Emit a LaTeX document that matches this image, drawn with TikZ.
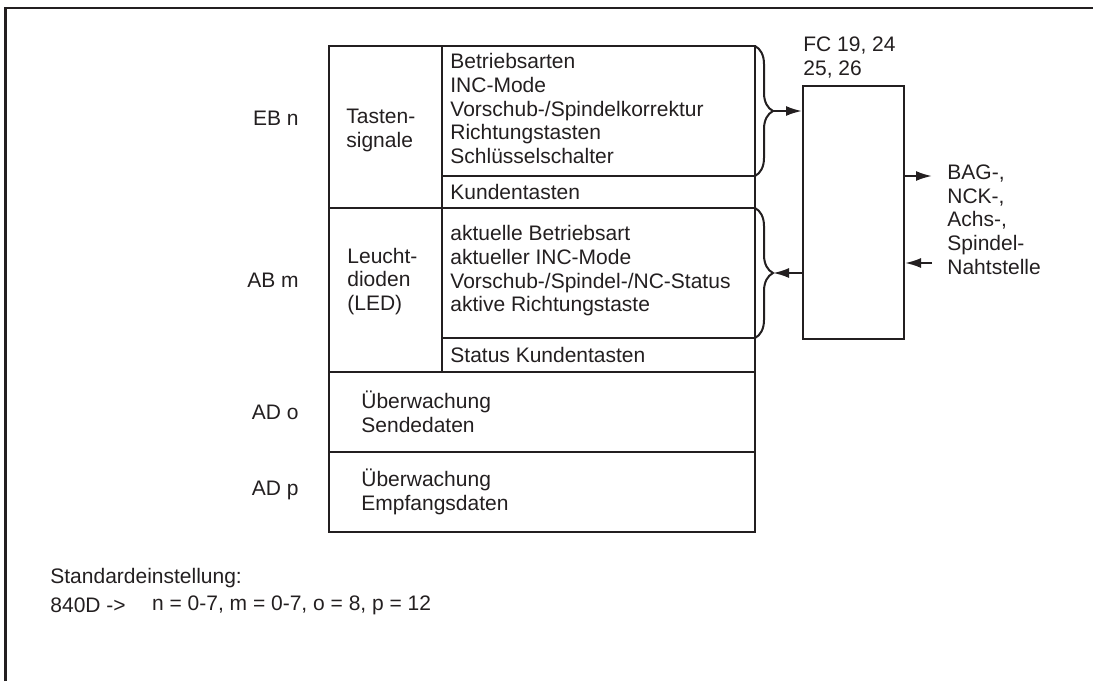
\documentclass[tikz,border=0pt]{standalone}
\usepackage{fontspec}
\setmainfont{Liberation Sans}
\usepackage{tikz}
\usetikzlibrary{calc}
\usetikzlibrary{arrows.meta}
\usetikzlibrary{decorations.pathreplacing}
\definecolor{ink}{RGB}{35,31,32}

\begin{document}
\begin{tikzpicture}[x = 0.5pt, y = -0.5pt, font = \fontsize{10.5}{11.85}\selectfont, color = ink]

\tikzstyle{frame_l}=[line width = 1.3, color = ink]
\tikzstyle{table_l}=[line width = 1, color = ink]
\tikzstyle{label_r}=[anchor = east, inner sep = 0pt]
\tikzstyle{text_l}=[anchor = west, inner sep = 0pt, align = left]
\tikzstyle{fc_box}=[draw, rectangle, line width = 1, minimum width = 50.5pt, minimum height = 126.5pt, inner sep = 0pt, anchor = north west]
\tikzstyle{brace_r}=[line width = 1, decorate, decoration = {brace, amplitude = 9pt}]
\tikzstyle{arrow_r}=[-{Latex[length = 8pt, width = 5pt]}, line width = 1]

\useasboundingbox (0, 0) rectangle (1093, 681);

%outer frame
\draw[frame_l] (5.5, 681) -- (5.5, 8) -- (1093, 8);

\coordinate (tl) at (329, 46);
\coordinate (br) at (755, 532);
\coordinate (col) at (442, 46);
\coordinate (h1) at (329, 208);
\coordinate (h2) at (329, 372);
\coordinate (h3) at (329, 452);
\coordinate (k1) at (442, 176);
\coordinate (k2) at (442, 338);
\coordinate (FC) at (802, 85);

%table
\draw[table_l] (tl) rectangle (br);
\draw[table_l] (col) -- (col |- h2);
\draw[table_l] (h1) -- (h1 -| br);
\draw[table_l] (h2) -- (h2 -| br);
\draw[table_l] (h3) -- (h3 -| br);
\draw[table_l] (k1) -- (k1 -| br);
\draw[table_l] (k2) -- (k2 -| br);

\path
(299, 118) node[label_r](ebn) {EB n}
(299, 280) node[label_r](abm) {AB m}
(299, 412.5) node[label_r](ado) {AD o}
(299, 490) node[label_r](adp) {AD p}
(346, 130.5) node[text_l](tasten) {Tasten-\\signale}
(347, 281.5) node[text_l](leucht) {Leucht-\\dioden\\(LED)}
(450, 108.7) node[text_l](eingang) {Betriebsarten\\INC-Mode\\Vorschub-/Spindelkorrektur\\Richtungstasten\\Schlüsselschalter}
(450, 192) node[text_l](kunden) {Kundentasten}
(450, 271) node[text_l](ausgang) {aktuelle Betriebsart\\aktueller INC-Mode\\Vorschub-/Spindel-/NC-Status\\aktive Richtungstaste}
(450, 355) node[text_l](status) {Status Kundentasten}
(361, 412) node[text_l](senden) {Überwachung\\Sendedaten}
(361, 492) node[text_l](empfang) {Überwachung\\Empfangsdaten};

\path
(FC) node[fc_box](fc) {}
(803, 57.5) node[text_l](fcname) {FC 19, 24\\25, 26}
(947, 219.5) node[text_l](nst) {BAG-,\\NCK-,\\Achs-,\\Spindel-\\Nahtstelle}
(50, 578) node[text_l](std) {Standardeinstellung:}
(50, 605) node[text_l](cpu) {840D ->}
(151.7, 605) node[text_l](werte) {n = 0-7, m = 0-7, o = 8, p = 12};

%braces
\draw[brace_r] (tl -| br) -- (k1 -| br);
\draw[brace_r] (h1 -| br) -- (k2 -| br);
\coordinate (tip1) at ($(tl -| br)!0.5!(k1 -| br) + (18, 0)$);
\coordinate (tip2) at ($(h1 -| br)!0.5!(k2 -| br) + (18, 0)$);
\coordinate (out) at (932, 176);
\coordinate (in) at (932, 263);

%arrows
\draw[arrow_r] (tip1) -- (tip1 -| fc.west);
\draw[arrow_r] (tip2 -| fc.west) -- (tip2);
\draw[arrow_r] (out -| fc.east) -- (out);
\draw[arrow_r] (in) -- (in -| fc.east);

\end{tikzpicture}
\end{document}
